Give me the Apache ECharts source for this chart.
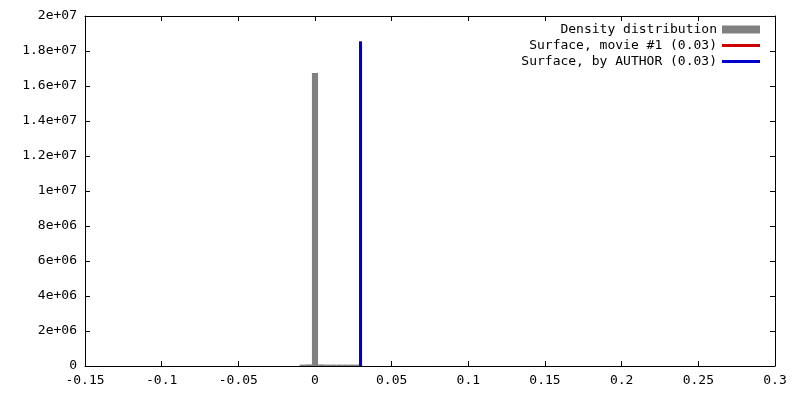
<!DOCTYPE html>
<html>
<head>
<meta charset="utf-8">
<script src="https://cdn.jsdelivr.net/npm/echarts@6/dist/echarts.min.js"></script>
<style>html,body{margin:0;padding:0;background:#fff}#c{width:800px;height:400px}</style>
</head>
<body>
<div id="c"></div>
<script>
// ---- data ----
const binWidth = 0.004;
const binCenters = [-0.008, -0.004, 0, 0.004, 0.008, 0.012, 0.016, 0.020, 0.024, 0.028];
const densityValues = [80000, 90000, 16740000, 90000, 80000, 80000, 80000, 80000, 80000, 80000];
const surfaceMovieX = 0.0297;
const surfaceMovieY = 18550000;
const surfaceAuthorX = 0.0297;
const surfaceAuthorY = 18550000;
const seriesNames = ['Density distribution', 'Surface, movie #1 (0.03)', 'Surface, by AUTHOR (0.03)'];
const xMin = -0.15, xMax = 0.3, xStep = 0.05;
const yMin = 0, yMax = 2e7, yStep = 2e6;

const FONT = 'DejaVu Sans Mono';
function fmtE(v) {
  if (v === 0) return '0';
  const e = Math.floor(Math.log10(Math.abs(v)) + 1e-9);
  let m = v / Math.pow(10, e);
  m = Math.round(m * 1e6) / 1e6;
  return m + 'e' + (e < 0 ? '-' : '+') + String(Math.abs(e)).padStart(2, '0');
}
function fmtX(v) { return String(Math.round(v * 1e6) / 1e6); }

const histData = binCenters.map((c, i) => [c, densityValues[i]]);

const axisLine = { show: true, onZero: false, lineStyle: { color: '#000', width: 1 } };
const tick = { show: true, inside: true, length: 5, lineStyle: { color: '#000' } };
const labelStyle = { color: '#000', fontFamily: FONT, fontSize: 13, margin: 8 };

const chart = echarts.init(document.getElementById('c'), null, { renderer: 'canvas' });
chart.setOption({
  animation: false,
  backgroundColor: '#fff',
  grid: { left: 85, right: 25, top: 16, bottom: 34, containLabel: false },
  xAxis: [
    { type: 'value', min: xMin, max: xMax, interval: xStep, position: 'bottom',
      axisLine, axisTick: tick, splitLine: { show: false },
      axisLabel: Object.assign({ formatter: fmtX }, labelStyle) },
    { type: 'value', min: xMin, max: xMax, interval: xStep, position: 'top',
      axisLine, axisTick: tick, splitLine: { show: false }, axisLabel: { show: false } }
  ],
  yAxis: [
    { type: 'value', min: yMin, max: yMax, interval: yStep, position: 'left',
      axisLine, axisTick: tick, splitLine: { show: false },
      axisLabel: Object.assign({ formatter: fmtE }, labelStyle) },
    { type: 'value', min: yMin, max: yMax, interval: yStep, position: 'right',
      axisLine, axisTick: tick, splitLine: { show: false }, axisLabel: { show: false } }
  ],
  legend: seriesNames.map((n, i) => ({
    data: [{ name: n, icon: 'rect' }],
    right: 40, top: 23 + i * 16, align: 'right', orient: 'vertical',
    itemWidth: 38, itemHeight: i === 0 ? 8 : 3, padding: 0, selectedMode: false,
    textStyle: { color: '#000', fontFamily: FONT, fontSize: 13 }
  })),
  series: [
    {
      name: seriesNames[0], type: 'custom', xAxisIndex: 0, yAxisIndex: 0,
      data: histData, itemStyle: { color: '#808080' },
      renderItem: function (params, api) {
        const c = api.value(0), v = api.value(1);
        const p0 = api.coord([c - binWidth / 2, v]);
        const p1 = api.coord([c + binWidth / 2, 0]);
        return { type: 'rect', shape: { x: p0[0], y: p0[1], width: p1[0] - p0[0], height: p1[1] - p0[1] },
                 style: { fill: '#808080' } };
      }
    },
    {
      name: seriesNames[1], type: 'line', showSymbol: false, symbol: 'none', z: 3,
      data: [[surfaceMovieX, 0], [surfaceMovieX, surfaceMovieY]],
      lineStyle: { color: '#cc0000', width: 3 }, itemStyle: { color: '#cc0000' }
    },
    {
      name: seriesNames[2], type: 'line', showSymbol: false, symbol: 'none', z: 4,
      data: [[surfaceAuthorX, 0], [surfaceAuthorX, surfaceAuthorY]],
      lineStyle: { color: '#0000cc', width: 3 }, itemStyle: { color: '#0000cc' }
    }
  ]
});
</script>
</body>
</html>
